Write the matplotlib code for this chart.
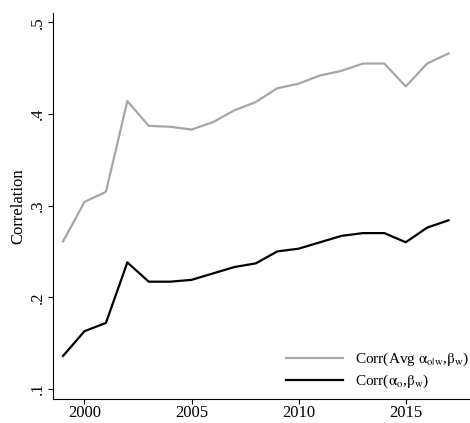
import matplotlib
matplotlib.use("Agg")
import matplotlib.pyplot as plt

years = list(range(1999, 2018))
avg_corr = [0.261, 0.304, 0.315, 0.414, 0.387, 0.386, 0.383, 0.391, 0.404, 0.413,
            0.428, 0.433, 0.442, 0.447, 0.455, 0.455, 0.430, 0.455, 0.466]
corr = [0.136, 0.163, 0.172, 0.238, 0.217, 0.217, 0.219, 0.226, 0.233, 0.237,
        0.250, 0.253, 0.260, 0.267, 0.270, 0.270, 0.260, 0.276, 0.284]
yticks = [0.1, 0.2, 0.3, 0.4, 0.5]
ytick_labels = [".1", ".2", ".3", ".4", ".5"]
xticks = [2000, 2005, 2010, 2015]
label_avg = r"Corr(Avg $\mathrm{α}_{\mathrm{o|w}}$,$\mathrm{β}_{\mathrm{w}}$)"
label_corr = r"Corr($\mathrm{α}_{\mathrm{o}}$,$\mathrm{β}_{\mathrm{w}}$)"

plt.rcParams['font.family'] = ['Liberation Serif', 'DejaVu Serif']
plt.rcParams['mathtext.fontset'] = 'stix'

fig = plt.figure(figsize=(4.7, 4.23), dpi=100)
ax = fig.add_axes([0.1128, 0.0567, 0.8872, 0.9123])
ax.plot(years, avg_corr, color='#a6a6a6', lw=1.6, label=label_avg)
ax.plot(years, corr, color='black', lw=1.6, label=label_corr)

ax.set_xlim(1998.53, 2018.0)
ax.set_ylim(0.089, 0.51)
ax.set_xticks(xticks)
ax.set_xticklabels([str(x) for x in xticks], fontsize=12)
ax.set_yticks(yticks)
ax.set_yticklabels(ytick_labels, fontsize=12, rotation=90, va='center')
ax.set_ylabel("Correlation", fontsize=12, labelpad=2.5)
for s in ['top', 'right']:
    ax.spines[s].set_visible(False)
ax.tick_params(direction='out', length=3.5, width=0.8)
ax.tick_params(axis='x', pad=0.5)
ax.tick_params(axis='y', pad=2)
ax.legend(loc='lower right', frameon=False, fontsize=11, handlelength=3.7,
          bbox_to_anchor=(1.031, -0.013), handletextpad=0.8, labelspacing=0.3)

fig.savefig("out.png", dpi=100)
